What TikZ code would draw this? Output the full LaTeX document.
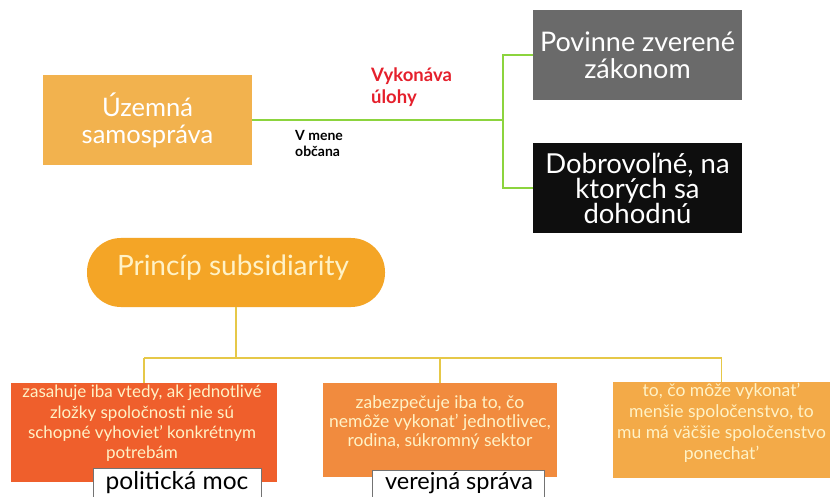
\documentclass[tikz,border=0pt]{standalone}
\usepackage{fontspec}
\setmainfont{Lato}
\usetikzlibrary{calc}
\definecolor{uzc}{HTML}{F2B24E}
\definecolor{povc}{HTML}{6A6A6A}
\definecolor{dobc}{HTML}{0E0E0E}
\definecolor{pillc}{HTML}{F4A526}
\definecolor{b1c}{HTML}{EF5F2C}
\definecolor{b2c}{HTML}{F18B3E}
\definecolor{b3c}{HTML}{F3AA48}
\definecolor{creamc}{HTML}{FFF2C6}
\definecolor{greenc}{HTML}{8CD43E}
\definecolor{goldc}{HTML}{E6C848}
\definecolor{redc}{HTML}{E5202C}
\newcommand{\fs}[2]{\fontsize{#1}{#2}\selectfont}
\tikzset{
  topbox/.style={rectangle, inner sep=0pt, align=center, text=white},
  lowbox/.style={rectangle, inner sep=0pt, align=center, text=creamc},
  lowtext/.style={text=creamc, align=center, inner sep=0pt, font=\fs{17}{20.3}, anchor=north},
  tagbox/.style={rectangle, inner sep=0pt, fill=white, draw=black!55, line width=0.6pt, text=black, align=center},
  greenline/.style={draw=greenc, line width=1.3pt},
  goldline/.style={draw=goldc, line width=1.1pt},
}
\begin{document}
\begin{tikzpicture}[x=1pt,y=-1pt]
\useasboundingbox (0,0) rectangle (830,497);
\fill[white] (0,0) rectangle (830,497);

% top part
\node[topbox, fill=uzc, minimum width=209pt, minimum height=90pt, font=\fs{25.5}{27}] (uz) at (147.5,120) {Územná\\samospráva};
\node[topbox, fill=povc, minimum width=209pt, minimum height=90pt, font=\fs{27}{27}] (pov) at (637.5,55) {Povinne zverené\\zákonom};
\node[topbox, fill=dobc, minimum width=209pt, minimum height=90pt, font=\fs{27.5}{25}] (dob) at (637.5,188) {Dobrovoľné, na\\ktorých sa\\dohodnú};
\coordinate (j1) at (503,120);
\draw[greenline] (uz.east) -- (j1);
\draw[greenline] (pov.west) -| (j1) |- (dob.west);
\node[anchor=north west, inner sep=0pt, align=left, text=redc, font=\bfseries\fs{18.5}{22}] (vyk) at (371,68) {Vykonáva\\úlohy};
\node[anchor=north west, inner sep=0pt, align=left, text=black, font=\bfseries\fs{14}{16.5}] (vmene) at (295,130) {V mene\\občana};

% subsidiarity
\node[rectangle, rounded corners=34pt, fill=pillc, minimum width=298pt, minimum height=69pt, inner sep=0pt] (pill) at (236,272.5) {};
\node[text=creamc, inner sep=0pt, font=\fs{28}{30}] (pilltext) at (233,268) {Princíp subsidiarity};

\node[lowbox, fill=b1c, minimum width=266pt, minimum height=99pt, anchor=north] (b1) at (144,383) {};
\node[lowbox, fill=b2c, minimum width=234pt, minimum height=94pt, anchor=north] (b2) at (440,383) {};
\node[lowbox, fill=b3c, minimum width=217pt, minimum height=96pt, anchor=north] (b3) at (721.5,382) {};

\node[lowtext] (t1) at (142,385) {zasahuje iba vtedy, ak jednotlivé\\zložky spoločnosti nie sú\\schopné vyhoviet’ konkrétnym\\potrebám};
\node[lowtext, font=\fs{17.5}{19}] (t2) at (440,395) {zabezpečuje iba to, čo\\nemôže vykonat’ jednotlivec,\\rodina, súkromný sektor};
\node[lowtext, font=\fs{17.5}{21}] (t3) at (721.5,383) {to, čo môže vykonat’\\menšie spoločenstvo, to\\mu má väčšie spoločenstvo\\ponechat’};

\coordinate (hub) at (236,358);
\draw[goldline] (pill.south) -- (hub);
\draw[goldline] (b1.north |- hub) -- (b3.north |- hub);
\draw[goldline] (b1.north |- hub) -- (b1.north);
\draw[goldline] (b2.north |- hub) -- (b2.north);
\draw[goldline] (b3.north |- hub) -- (b3.north);

\node[tagbox, minimum width=168pt, minimum height=30pt, anchor=north west] (tag1) at (93,468) {};
\node[text=black, inner sep=0pt, font=\fs{24.5}{28}, anchor=base] (tag1text) at (177,489) {politická moc};
\node[tagbox, minimum width=172pt, minimum height=30pt, anchor=north west] (tag2) at (372,470) {};
\node[text=black, inner sep=0pt, font=\fs{23.5}{28}, anchor=base] (tag2text) at (459,489.5) {verejná správa};
\end{tikzpicture}
\end{document}
